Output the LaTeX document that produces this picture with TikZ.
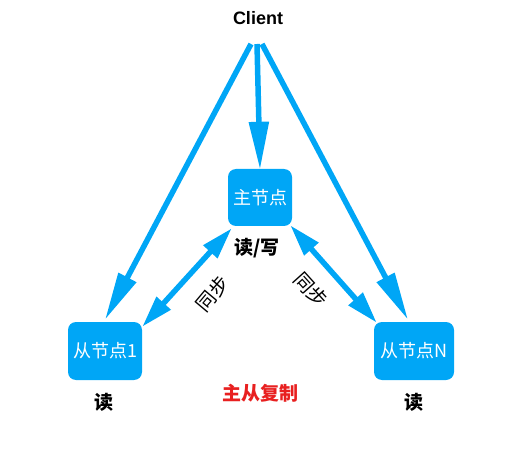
\documentclass[tikz,border=0pt]{standalone}
\usepackage{fontspec}
\setmainfont{Liberation Sans}
\newfontfamily\cjk{Noto Sans CJK SC}
\usetikzlibrary{arrows.meta,calc}
\definecolor{nodeblue}{RGB}{0,166,246}
\definecolor{titlered}{RGB}{232,32,32}
\begin{document}
\begin{tikzpicture}[x=1pt,y=-1pt,
  box/.style={fill=nodeblue,rounded corners=8pt,text=white,font=\cjk\fontsize{18}{18}\selectfont,inner sep=0pt,minimum height=58pt},
  conn/.style={draw=nodeblue,line width=5.5pt,-{Triangle[length=48pt,width=19pt]}},
  sync/.style={draw=nodeblue,line width=5.5pt,{Triangle[length=32pt,width=18pt]}-{Triangle[length=32pt,width=18pt]}},
  lbl/.style={font=\cjk\bfseries\fontsize{19}{19}\selectfont},
  syn/.style={font=\cjk\fontsize{19.5}{19.5}\selectfont}]
\useasboundingbox (0,0) rectangle (506,465);
\node[font=\bfseries\fontsize{18}{18}\selectfont] (client) at (258,18) {Client};
\node[box,minimum width=64pt,minimum height=57pt] (m) at (260,197.5) {主节点};
\node[box,minimum width=74pt] (s1) at (105,351) {从节点1};
\node[box,minimum width=80pt] (sN) at (414,351) {从节点N};
\coordinate (c1) at (251,44);
\coordinate (c2) at (257,44);
\coordinate (c3) at (262,44);
\draw[conn] (c1) -- ($(s1.north)+(0,-2)$);
\draw[conn] (c2) -- ($(m.north)+(0,1)$);
\draw[conn] (c3) -- ($(sN.north)+(-6,-2)$);
\draw[sync] ($(m.south west)+(4,2)$) -- ($(s1.north east)+(0,5)$);
\draw[sync] ($(m.south east)+(-2,-1)$) -- ($(sN.north west)+(3,1)$);
\node[lbl] (rw) at (257,248) {读/写};
\node[syn,rotate=50] (sy1) at (212.5,294) {同步};
\node[syn,rotate=-48] (sy2) at (311,290) {同步};
\node[lbl] (r1) at (104,402) {读};
\node[lbl] (rN) at (414,402) {读};
\node[lbl,text=titlered,font=\cjk\bfseries\fontsize{19}{19}\selectfont] (title) at (260,393) {主从复制};
\end{tikzpicture}
\end{document}
